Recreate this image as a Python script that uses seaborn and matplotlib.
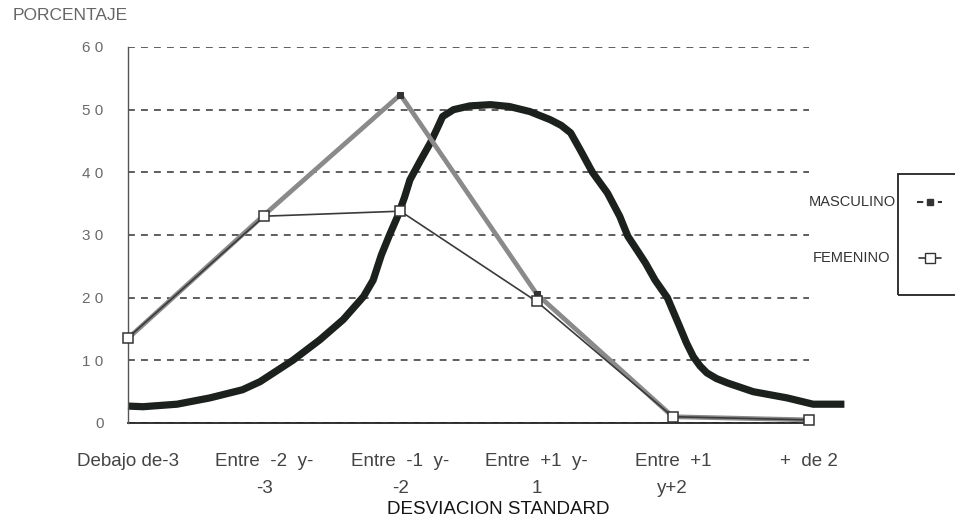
import numpy as np
import pandas as pd
import matplotlib
matplotlib.use("Agg")
import matplotlib.pyplot as plt
import seaborn as sns
from matplotlib.lines import Line2D
from matplotlib.patches import Rectangle

# Categories of the standard-deviation axis
categorias = [
    "Debajo de-3",
    "Entre  -2  y-\n-3",
    "Entre  -1  y-\n-2",
    "Entre  +1  y-\n1",
    "Entre  +1\ny+2",
    "+  de 2",
]
posiciones = list(range(len(categorias)))

# Percentages per group
masculino = [13.5, 33.2, 52.4, 20.6, 1.0, 0.5]
femenino = [13.6, 33.0, 33.8, 19.4, 1.0, 0.5]

# Reference (normal) curve, traced points in category units
curva_x = [0.00, 0.11, 0.36, 0.60, 0.84, 0.97, 1.21, 1.41, 1.58, 1.73, 1.80,
           1.86, 1.92, 1.98, 2.03, 2.07, 2.15, 2.22, 2.27, 2.31, 2.39, 2.51,
           2.66, 2.80, 2.95, 3.10, 3.18, 3.25, 3.32, 3.41, 3.52, 3.61, 3.67,
           3.74, 3.80, 3.87, 3.96, 4.05, 4.10, 4.15, 4.20, 4.25, 4.32, 4.40,
           4.59, 4.84, 5.03, 5.18, 5.26]
curva_y = [2.7, 2.6, 3.0, 4.0, 5.3, 6.6, 10.0, 13.3, 16.5, 20.2, 22.8,
           26.8, 30.0, 33.0, 36.0, 38.8, 42.0, 44.7, 47.0, 48.9, 50.0, 50.6,
           50.8, 50.5, 49.7, 48.4, 47.5, 46.3, 43.6, 40.0, 36.7, 33.0, 29.8,
           27.5, 25.5, 22.8, 20.0, 15.4, 12.8, 10.6, 9.1, 8.0, 7.1, 6.4,
           5.0, 4.0, 3.0, 3.0, 3.0]

y_ticks = [0, 10, 20, 30, 40, 50, 60]
y_labels = ["0", "1 0", "2 0", "3 0", "4 0", "5 0", "6 0"]

sns.set_theme(style="white")
plt.rcParams["font.family"] = ["Liberation Sans", "DejaVu Sans"]

W, H = 955, 521
fig = plt.figure(figsize=(W / 100, H / 100), dpi=100)
ax = fig.add_axes([128 / W, 1 - 423 / H, 681 / W, 376 / H])

# Normal curve
sns.lineplot(x=curva_x, y=curva_y, ax=ax, color="#1c211e", lw=5.2,
             sort=False, zorder=2, solid_capstyle="butt",
             solid_joinstyle="round")

# Masculino
sns.lineplot(x=posiciones, y=masculino, ax=ax, color="#8a8a8a", lw=3.4,
             marker="s", markersize=4, markerfacecolor="#333333",
             markeredgecolor="#333333", zorder=3)

# Femenino
sns.lineplot(x=posiciones, y=femenino, ax=ax, color="#3a3a3a", lw=1.2,
             marker="s", markersize=6.5, markerfacecolor="white",
             markeredgecolor="#333333", markeredgewidth=1.1, zorder=4)
for ln in ax.get_lines():
    ln.set_clip_on(False)

ax.set_xlim(0, 5)
ax.set_ylim(0, 60)
ax.set_xticks(posiciones)
ax.set_xticklabels(categorias, fontsize=13.5, color="#444444", linespacing=1.8)
ax.set_yticks(y_ticks)
ax.set_yticklabels(y_labels, fontsize=11, color="#6a6a6a")
ax.set_xlabel("")
ax.set_ylabel("")

ax.yaxis.grid(True, linestyle=(0, (4.5, 4)), color="#333333", lw=1.1)
ax.xaxis.grid(False)
ax.tick_params(axis="x", direction="inout", length=11, width=1,
               color="#444444", pad=16)
ax.tick_params(axis="y", direction="inout", length=11, width=1,
               color="#444444", pad=12)
for s in ("top", "right"):
    ax.spines[s].set_visible(False)
ax.spines["left"].set_color("#555555")
ax.spines["left"].set_linewidth(1.0)
ax.spines["bottom"].set_color("#222222")
ax.spines["bottom"].set_linewidth(1.3)
ax.spines["bottom"].set_zorder(1)

# Titles
fig.text(13 / W, 1 - 15 / H, "PORCENTAJE", ha="left", va="center",
         fontsize=12.5, color="#666666")
fig.text(498 / W, 1 - 510 / H, "DESVIACION STANDARD", ha="center",
         va="center", fontsize=13.5, color="#151515")

# Legend box with labels placed to its left
fig.add_artist(Rectangle((898 / W, 1 - 295 / H), 0.2, 121 / H,
                         transform=fig.transFigure, fill=False,
                         edgecolor="#222222", lw=1.3))
fig.text(896 / W, 1 - 202 / H, "MASCULINO", ha="right", va="center",
         fontsize=10.5, color="#333333")
fig.text(890 / W, 1 - 258 / H, "FEMENINO", ha="right", va="center",
         fontsize=10.5, color="#333333")
fig.add_artist(Line2D([917 / W, 942 / W], [1 - 202 / H] * 2,
                      transform=fig.transFigure, color="#333333", lw=1.5,
                      linestyle=(0, (3, 2))))
fig.add_artist(Line2D([929.5 / W], [1 - 202 / H], transform=fig.transFigure,
                      marker="s", markersize=4, color="#333333", lw=0))
fig.add_artist(Line2D([919 / W, 941 / W], [1 - 258 / H] * 2,
                      transform=fig.transFigure, color="#333333", lw=1.2,
                      marker=None))
fig.add_artist(Line2D([930 / W], [1 - 258 / H], transform=fig.transFigure,
                      marker="s", markersize=6.5, markerfacecolor="white",
                      markeredgecolor="#333333", lw=0))

fig.savefig("out.png", dpi=100, facecolor="white")
